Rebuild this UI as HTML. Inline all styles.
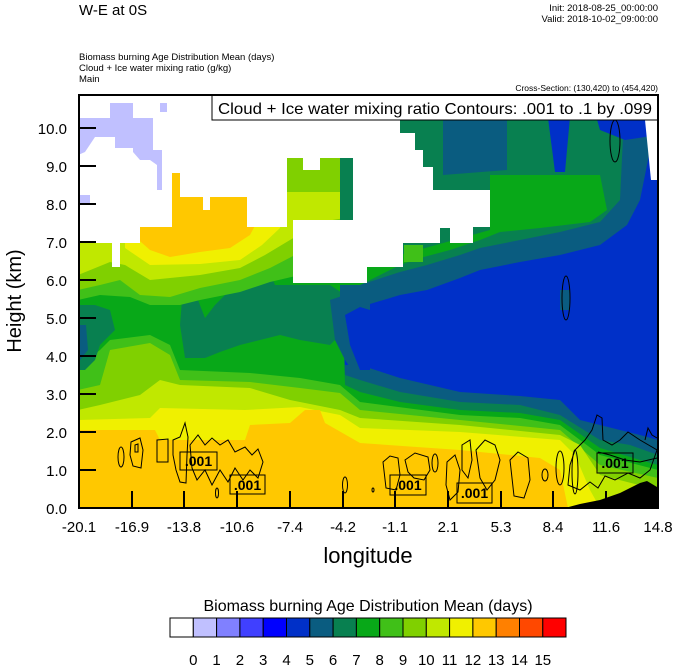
<!DOCTYPE html>
<html><head><meta charset="utf-8"><style>
html,body{margin:0;padding:0;background:#fff;}
svg{display:block;font-family:"Liberation Sans",sans-serif;}
</style></head><body>
<svg width="674" height="667" viewBox="0 0 674 667" xmlns="http://www.w3.org/2000/svg">
<rect width="674" height="667" fill="#fff"/>
<!-- header -->
<text x="79" y="15" font-size="15">W-E at 0S</text>
<text x="658" y="11" font-size="9.5" text-anchor="end">Init: 2018-08-25_00:00:00</text>
<text x="658" y="22" font-size="9.5" text-anchor="end">Valid: 2018-10-02_09:00:00</text>
<text x="79" y="60" font-size="9.5">Biomass burning Age Distribution Mean    (days)</text>
<text x="79" y="71" font-size="9.5">Cloud + Ice water mixing ratio    (g/kg)</text>
<text x="79" y="82" font-size="9.5">Main</text>
<text x="658" y="91" font-size="8.5" text-anchor="end">Cross-Section: (130,420) to (454,420)</text>

<defs><clipPath id="pc"><rect x="79" y="95" width="579" height="413"/></clipPath></defs>
<g clip-path="url(#pc)">
<rect x="79" y="95" width="579" height="413" fill="#0030C8"/>
<!-- bottom-up layers -->
<polygon fill="#0A5C80" points="78,95 335,95 345,365 360,365 400,378 460,392 520,396 560,400 580,420 600,425 620,430 640,435 658,440 658,508 78,508"/>
<polygon fill="#088050" points="78,95 335,95 345,375 360,380 400,392 460,402 520,405 560,415 600,440 630,445 658,455 658,508 78,508"/>
<polygon fill="#08A818" points="78,95 335,95 345,385 360,392 400,402 460,410 520,413 560,420 600,448 640,460 658,465 658,508 78,508"/>
<polygon fill="#40C018" points="78,367 100,350 110,340 150,335 170,345 180,370 250,373 300,378 340,385 360,402 460,415 520,418 560,425 600,455 658,470 658,508 78,508"/>
<polygon fill="#80D000" points="78,390 100,385 110,350 150,343 170,355 180,380 250,382 300,388 340,393 360,410 460,420 560,430 600,465 658,478 658,508 78,508"/>
<polygon fill="#C0E800" points="78,410 100,405 140,395 160,380 180,385 250,388 290,400 340,410 360,418 460,425 560,435 580,445 600,475 658,490 658,508 78,508"/>
<polygon fill="#F0F000" points="78,420 150,418 160,408 245,410 300,407 340,415 360,428 460,432 560,440 575,455 590,490 600,508 78,508"/>
<polygon fill="#FFC800" points="78,430 155,430 160,440 245,440 250,425 290,423 305,410 320,410 325,423 360,443 460,450 540,458 560,470 568,508 78,508"/>
<!-- west blobs -->
<polygon fill="#088050" points="180,325 182,300 186,275 192,275 198,300 205,318 215,305 230,290 245,282 258,262 268,268 275,285 300,285 330,285 345,295 345,330 330,345 300,340 280,335 260,340 240,345 220,352 205,358 185,358"/>
<polygon fill="#088050" points="78,305 95,305 110,310 115,330 100,345 95,360 85,370 78,370"/>
<polygon fill="#0A5C80" points="78,325 86,325 88,350 80,360 78,360"/>
<polygon fill="#0A5C80" points="330,300 345,295 360,300 370,300 370,375 355,375 345,360 335,340"/>
<polygon fill="#0030C8" points="345,315 360,307 370,310 370,370 360,370 350,345"/>
<!-- west top-down overlays -->
<polygon fill="#40C018" points="78,95 350,95 345,265 330,270 300,275 270,282 240,292 200,300 180,305 150,305 130,297 100,295 78,300"/>
<polygon fill="#80D000" points="78,95 350,95 345,235 320,240 295,255 270,268 240,280 200,288 170,297 140,295 120,280 100,285 78,290"/>
<polygon fill="#C0E800" points="78,95 350,95 345,218 320,222 290,240 265,255 240,268 200,275 150,280 125,265 110,262 78,275"/>
<polygon fill="#F0F000" points="125,95 288,95 280,228 262,245 240,260 200,264 150,265 125,248"/>
<polygon fill="#FFC800" points="133,95 258,95 258,220 250,235 230,248 200,252 170,257 150,250 133,235"/>
<polygon fill="#80D000" points="283,150 355,150 355,192 283,192"/>
<!-- east upper overlays -->
<polygon fill="#0A5C80" points="340,95 658,95 658,120 650,150 640,200 627,225 600,245 560,255 520,262 480,270 460,278 427,290 400,295 360,307 340,300"/>
<polygon fill="#088050" points="340,95 625,95 620,200 600,222 560,232 520,240 480,248 460,255 427,265 400,272 360,285 340,280"/>
<polygon fill="#08A818" points="490,175 600,175 607,210 590,222 540,228 500,232 480,240 450,250 420,258 400,265 380,275 360,285 340,285 340,260 400,255 490,230"/>
<polygon fill="#40C018" points="404,245 423,245 423,262 404,262"/>
<polygon fill="#0A5C80" points="443,95 507,95 507,170 443,175"/>
<polygon fill="#0030C8" points="545,95 572,95 565,172 555,172"/>
<polygon fill="#0030C8" points="590,95 658,95 658,135 625,140 600,130"/>
<polygon fill="#0A5C80" points="560,290 570,290 570,310 560,310"/>
<!-- white (no data) -->
<polygon fill="#fff" points="78,95 400,95 400,133 415,133 415,150 423,150 423,167 433,167 433,190 490,190 490,227 473,227 473,243 450,243 450,228 440,228 440,243 403,243 403,267 367,267 367,283 293,283 293,220 353,220 353,158 320,158 320,170 303,170 303,158 287,158 287,227 247,227 247,197 210,197 210,210 203,210 203,197 180,197 180,173 172,173 172,227 140,227 140,243 120,243 120,267 112,267 112,243 78,243"/>
<polygon fill="#fff" points="645,120 657,120 657,180 651,180"/>
<!-- lavender -->
<polygon fill="#C0C0FF" points="78,118 110,118 110,103 133,103 133,118 153,118 153,150 162,150 162,190 157,190 157,165 150,160 140,160 133,152 133,148 115,148 115,137 95,137 85,152 78,155"/>
<polygon fill="#C0C0FF" points="160,103 167,103 167,112 160,112"/>
<polygon fill="#C0C0FF" points="78,195 90,195 90,205 78,205"/>
<!-- terrain -->
<polygon fill="#000" points="565,508 580,504 600,500 620,493 640,483 647,481 657,487 658,508"/>
<!-- contours -->
<g fill="none" stroke="#000" stroke-width="1">
<ellipse cx="121" cy="457" rx="3" ry="10"/>
<path d="M131,442 L140,438 L143,450 L141,468 L133,466 L130,455 Z"/>
<path d="M135,445 L138,444 L138,452 L135,452 Z"/>
<path d="M157,440 L168,439 L168,462 L157,462 Z"/>
<path d="M173,440 L180,437 L185,423 L188,437 L187,455 L186,483 L180,482 L176,470 L173,455 Z"/>
<path d="M190,445 L198,435 L205,445 L212,438 L220,445 L228,440 L235,452 L245,447 L252,455 L258,449 L263,462 L258,478 L250,470 L243,480 L235,468 L228,482 L220,470 L212,485 L205,470 L197,480 L192,468 Z"/>
<ellipse cx="217" cy="493" rx="1.5" ry="5"/>
<ellipse cx="345" cy="485" rx="2.5" ry="8"/>
<ellipse cx="373" cy="490" rx="1" ry="2"/>
<path d="M383,462 L390,456 L398,458 L400,475 L396,490 L386,488 Z"/>
<path d="M405,460 L415,453 L428,457 L430,470 L424,480 L414,478 L408,472 Z"/>
<ellipse cx="435" cy="463" rx="3" ry="9"/>
<path d="M447,462 L455,455 L460,470 L458,492 L450,500 L446,485 Z"/>
<path d="M462,445 L470,440 L472,460 L468,478 L462,470 Z"/>
<path d="M476,450 L485,440 L495,445 L500,460 L495,480 L487,490 L480,478 Z"/>
<path d="M510,460 L518,452 L528,458 L530,480 L524,498 L514,496 Z"/>
<ellipse cx="545" cy="475" rx="3" ry="6"/>
<ellipse cx="560" cy="468" rx="4" ry="17"/>
<ellipse cx="575" cy="472" rx="3" ry="22"/>
<path d="M568,485 L570,465 L575,450 L585,440 L592,430 L597,415 L602,418 L603,440 L612,445 L620,440 L628,432 L640,440 L652,447 L657,450 L650,470 L640,478 L628,473 L615,480 L605,476 L598,488 L590,482 L580,490 Z"/>
<path d="M598,452 L610,455 L625,460 L640,462 L657,458"/>
<path d="M645,440 L648,428 L652,435 L657,438"/>
<ellipse cx="615" cy="141" rx="5" ry="21"/>
<ellipse cx="566" cy="298" rx="4" ry="22"/>
</g>
<!-- contour labels -->
<g font-size="14" font-weight="bold" text-anchor="middle">
<rect x="180" y="452" width="37" height="18" fill="none" stroke="#000"/><text x="198.5" y="466">.001</text>
<rect x="230" y="475" width="35" height="19" fill="none" stroke="#000"/><text x="247.5" y="490">.001</text>
<rect x="390" y="475" width="36" height="20" fill="none" stroke="#000"/><text x="408" y="490">.001</text>
<rect x="457" y="483" width="35" height="20" fill="none" stroke="#000"/><text x="474.5" y="498">.001</text>
<rect x="597" y="453" width="36" height="20" fill="none" stroke="#000"/><text x="615" y="468">.001</text>
</g>
</g>
<!-- legend box -->
<rect x="212" y="95" width="446" height="25" fill="#fff" stroke="#000" stroke-width="1"/>
<text x="435" y="114" font-size="16" text-anchor="middle" textLength="434" lengthAdjust="spacingAndGlyphs">Cloud + Ice water mixing ratio Contours: .001 to .1 by .099</text>
<!-- frame -->
<rect x="79" y="95" width="579" height="413" fill="none" stroke="#000" stroke-width="2"/>
<!-- y ticks -->
<g stroke="#000" stroke-width="2">
<line x1="79" y1="470" x2="96" y2="470"/><line x1="79" y1="432" x2="96" y2="432"/><line x1="79" y1="394" x2="96" y2="394"/><line x1="79" y1="356" x2="96" y2="356"/><line x1="79" y1="318" x2="96" y2="318"/><line x1="79" y1="280" x2="96" y2="280"/><line x1="79" y1="242" x2="96" y2="242"/><line x1="79" y1="204" x2="96" y2="204"/><line x1="79" y1="166" x2="96" y2="166"/><line x1="79" y1="128" x2="96" y2="128"/>
<line x1="132" y1="508" x2="132" y2="491"/><line x1="184" y1="508" x2="184" y2="491"/><line x1="237" y1="508" x2="237" y2="491"/><line x1="290" y1="508" x2="290" y2="491"/><line x1="343" y1="508" x2="343" y2="491"/><line x1="395" y1="508" x2="395" y2="491"/><line x1="448" y1="508" x2="448" y2="491"/><line x1="501" y1="508" x2="501" y2="491"/><line x1="553" y1="508" x2="553" y2="491"/><line x1="606" y1="508" x2="606" y2="491"/>
</g>
<g font-size="15" text-anchor="end">
<text x="67" y="514">0.0</text><text x="67" y="476">1.0</text><text x="67" y="438">2.0</text><text x="67" y="400">3.0</text><text x="67" y="362">4.0</text><text x="67" y="324">5.0</text><text x="67" y="286">6.0</text><text x="67" y="248">7.0</text><text x="67" y="210">8.0</text><text x="67" y="172">9.0</text><text x="67" y="134">10.0</text>
</g>
<g font-size="15" text-anchor="middle">
<text x="79" y="532">-20.1</text><text x="132" y="532">-16.9</text><text x="184" y="532">-13.8</text><text x="237" y="532">-10.6</text><text x="290" y="532">-7.4</text><text x="343" y="532">-4.2</text><text x="395" y="532">-1.1</text><text x="448" y="532">2.1</text><text x="501" y="532">5.3</text><text x="553" y="532">8.4</text><text x="606" y="532">11.6</text><text x="658" y="532">14.8</text>
</g>
<text x="368" y="563" font-size="22" text-anchor="middle">longitude</text>
<text transform="translate(21,301) rotate(-90)" font-size="20" text-anchor="middle">Height (km)</text>
<!-- colorbar -->
<text x="368" y="611" font-size="16" text-anchor="middle">Biomass burning Age Distribution Mean  (days)</text>
<g stroke="#000" stroke-width="1">
<rect x="170" y="618" width="23.3" height="19" fill="#FFFFFF"/>
<rect x="193.3" y="618" width="23.3" height="19" fill="#C0C0FF"/>
<rect x="216.6" y="618" width="23.3" height="19" fill="#8080FF"/>
<rect x="239.9" y="618" width="23.3" height="19" fill="#4040FF"/>
<rect x="263.2" y="618" width="23.3" height="19" fill="#0000FF"/>
<rect x="286.5" y="618" width="23.3" height="19" fill="#0030C8"/>
<rect x="309.8" y="618" width="23.3" height="19" fill="#0A5C80"/>
<rect x="333.1" y="618" width="23.3" height="19" fill="#088050"/>
<rect x="356.4" y="618" width="23.3" height="19" fill="#08A818"/>
<rect x="379.7" y="618" width="23.3" height="19" fill="#40C018"/>
<rect x="403" y="618" width="23.3" height="19" fill="#80D000"/>
<rect x="426.3" y="618" width="23.3" height="19" fill="#C0E800"/>
<rect x="449.6" y="618" width="23.3" height="19" fill="#F0F000"/>
<rect x="472.9" y="618" width="23.3" height="19" fill="#FFC800"/>
<rect x="496.2" y="618" width="23.3" height="19" fill="#FF8000"/>
<rect x="519.5" y="618" width="23.3" height="19" fill="#FF4800"/>
<rect x="542.8" y="618" width="23.2" height="19" fill="#FF0000"/>
</g>
<g font-size="15" text-anchor="middle">
<text x="193.3" y="665">0</text><text x="216.6" y="665">1</text><text x="239.9" y="665">2</text><text x="263.2" y="665">3</text><text x="286.5" y="665">4</text><text x="309.8" y="665">5</text><text x="333.1" y="665">6</text><text x="356.4" y="665">7</text><text x="379.7" y="665">8</text><text x="403" y="665">9</text><text x="426.3" y="665">10</text><text x="449.6" y="665">11</text><text x="472.9" y="665">12</text><text x="496.2" y="665">13</text><text x="519.5" y="665">14</text><text x="542.8" y="665">15</text>
</g>
</svg>
</body></html>
